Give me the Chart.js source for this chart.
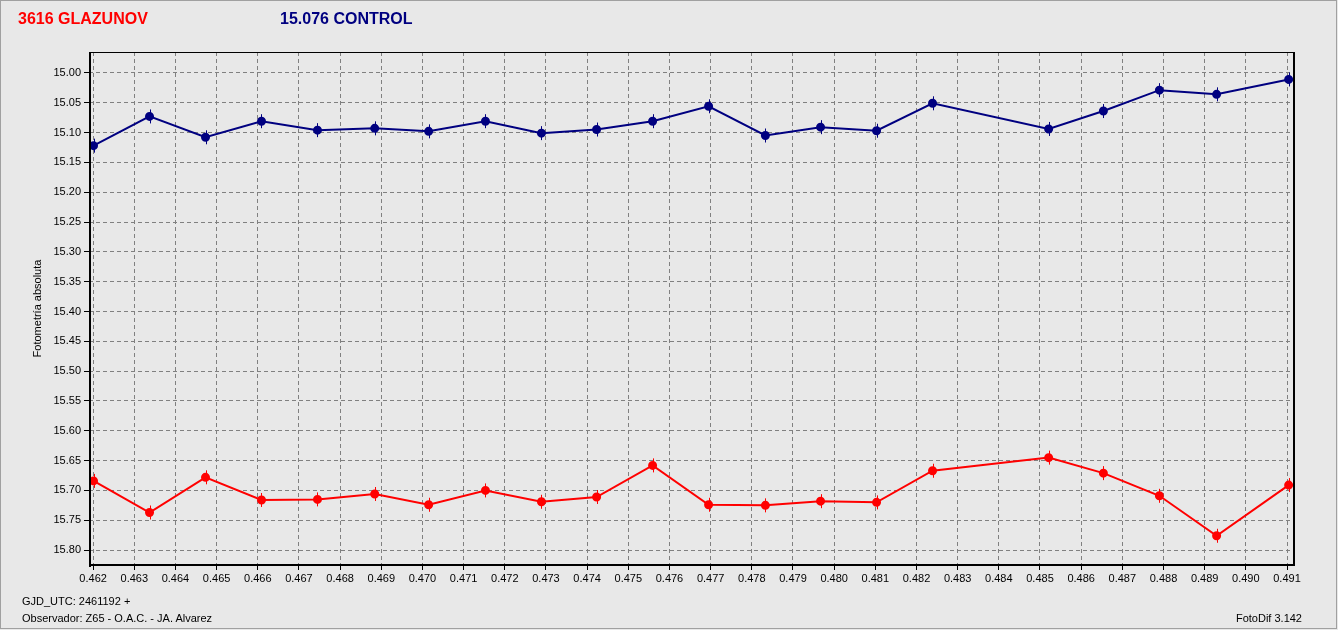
<!DOCTYPE html>
<html>
<head>
<meta charset="utf-8">
<title>3616 GLAZUNOV - FotoDif</title>
<script src="https://cdn.jsdelivr.net/npm/chart.js@4.4.1/dist/chart.umd.min.js"></script>
<style>
  html, body { margin: 0; padding: 0; background: #e8e8e8; }
  body { position: relative; width: 1338px; height: 630px; overflow: hidden;
         font-family: "Liberation Sans", Arial, sans-serif; }
  #chart { position: absolute; left: 0; top: 0; }
  #frame { position: absolute; left: 0; top: 0; width: 1337px; height: 629px; box-sizing: border-box;
           border: 1px solid #a0a0a0; pointer-events: none; }
  .txt { position: absolute; white-space: nowrap; }
  .head { font-size: 16px; line-height: 16px; font-weight: bold; top: 11px; }
  .foot { font-size: 11px; line-height: 11px; color: #000; }
</style>
</head>
<body>
<canvas id="chart" width="1338" height="630"></canvas>
<div id="frame"></div>
<div class="txt head" style="left:18px; color:#ff0000;">3616 GLAZUNOV</div>
<div class="txt head" style="left:280px; color:#000080;">15.076 CONTROL</div>
<div class="txt foot" style="left:22px; top:596px;">GJD_UTC: 2461192 +</div>
<div class="txt foot" style="left:22px; top:613px;">Observador: Z65 - O.A.C. - JA. Alvarez</div>
<div class="txt foot" style="right:36px; top:613px;">FotoDif 3.142</div>

<script>
// GJD_UTC fraction (days after 2461192)
const gjdFrac = [0.46201, 0.46337, 0.46473, 0.46609, 0.46745, 0.46884, 0.47015, 0.47153, 0.47289, 0.47423,
                 0.47559, 0.47695, 0.47833, 0.47967, 0.48103, 0.48239, 0.48521, 0.48654, 0.48790, 0.48929, 0.49104];

// magnitudes
const controlMag = [15.122, 15.073, 15.108, 15.081, 15.096, 15.093, 15.098, 15.081, 15.101, 15.095,
                    15.081, 15.056, 15.105, 15.091, 15.097, 15.051, 15.094, 15.064, 15.029, 15.036, 15.011];
const targetMag = [15.684, 15.737, 15.678, 15.716, 15.715, 15.706, 15.724, 15.700, 15.719, 15.711,
                   15.658, 15.724, 15.725, 15.718, 15.720, 15.667, 15.645, 15.671, 15.709, 15.776, 15.691];

const xTicks = [0.462, 0.463, 0.464, 0.465, 0.466, 0.467, 0.468, 0.469, 0.470, 0.471,
                0.472, 0.473, 0.474, 0.475, 0.476, 0.477, 0.478, 0.479, 0.480, 0.481,
                0.482, 0.483, 0.484, 0.485, 0.486, 0.487, 0.488, 0.489, 0.490, 0.491];
const yTicks = [15.00, 15.05, 15.10, 15.15, 15.20, 15.25, 15.30, 15.35, 15.40,
                15.45, 15.50, 15.55, 15.60, 15.65, 15.70, 15.75, 15.80];

const RED = "#ff0000";
const NAVY = "#000080";
const FONT = "'Liberation Sans', Arial, sans-serif";

function toPoints(mags) {
  return gjdFrac.map((x, i) => ({ x: x, y: mags[i] }));
}

// vertical whiskers on each marker
const whiskers = {
  id: "whiskers",
  afterDatasetsDraw(chart) {
    const ctx = chart.ctx;
    chart.data.datasets.forEach((ds, i) => {
      const meta = chart.getDatasetMeta(i);
      ctx.save();
      ctx.strokeStyle = ds.borderColor;
      ctx.lineWidth = 1;
      meta.data.forEach((pt) => {
        ctx.beginPath();
        ctx.moveTo(Math.round(pt.x) + 0.5, pt.y - 7);
        ctx.lineTo(Math.round(pt.x) + 0.5, pt.y + 7);
        ctx.stroke();
      });
      ctx.restore();
    });
  },
};

// plot frame
const frame = {
  id: "frame",
  afterDraw(chart) {
    const { ctx, chartArea: a } = chart;
    ctx.save();
    ctx.fillStyle = "#000";
    ctx.fillRect(a.left, a.top, a.right - a.left, 1);
    ctx.fillRect(a.left, a.top, 2, a.bottom - a.top + 2);
    ctx.fillRect(a.left, a.bottom - 1, a.right - a.left + 1, 2);
    ctx.fillRect(a.right - 1, a.top, 2, a.bottom - a.top + 1);
    ctx.restore();
  },
};

new Chart(document.getElementById("chart"), {
  type: "line",
  data: {
    datasets: [
      {
        label: "3616 GLAZUNOV",
        data: toPoints(targetMag),
        borderColor: RED,
        backgroundColor: RED,
        borderWidth: 2,
        pointRadius: 3.5,
        pointStyle: "circle",
        tension: 0,
      },
      {
        label: "15.076 CONTROL",
        data: toPoints(controlMag),
        borderColor: NAVY,
        backgroundColor: NAVY,
        borderWidth: 2,
        pointRadius: 3.5,
        pointStyle: "circle",
        tension: 0,
      },
    ],
  },
  options: {
    responsive: false,
    animation: false,
    devicePixelRatio: 1,
    layout: { padding: { top: 52, right: 44, left: 0, bottom: 0 } },
    plugins: {
      legend: { display: false },
      tooltip: { enabled: false },
    },
    scales: {
      x: {
        type: "linear",
        position: "bottom",
        min: 0.4619,
        max: 0.49117,
        afterBuildTicks: (s) => { s.ticks = xTicks.map((v) => ({ value: v })); },
        afterFit: (s) => { s.height = 65; },
        ticks: {
          color: "#000",
          padding: 2,
          maxRotation: 0,
          autoSkip: false,
          font: { family: FONT, size: 11 },
          callback: (v) => Number(v).toFixed(3),
        },
        grid: {
          color: "#808080",
          lineWidth: 1,
          tickLength: 5,
          tickColor: "#000",
          tickBorderDash: [],
        },
        border: { display: false, dash: [4, 3] },
      },
      y: {
        type: "linear",
        reverse: true,
        min: 14.965,
        max: 15.825,
        afterBuildTicks: (s) => { s.ticks = yTicks.map((v) => ({ value: v })); },
        afterFit: (s) => { s.width = 89; },
        title: {
          display: true,
          text: "Fotometría absoluta",
          color: "#000",
          font: { family: FONT, size: 11 },
          padding: { top: 31, bottom: 0 },
        },
        ticks: {
          color: "#000",
          padding: 3,
          autoSkip: false,
          font: { family: FONT, size: 11 },
          callback: (v) => Number(v).toFixed(2),
        },
        grid: {
          color: "#808080",
          lineWidth: 1,
          tickLength: 5,
          tickColor: "#000",
          tickBorderDash: [],
        },
        border: { display: false, dash: [4, 3] },
      },
    },
  },
  plugins: [whiskers, frame],
});
</script>
</body>
</html>
